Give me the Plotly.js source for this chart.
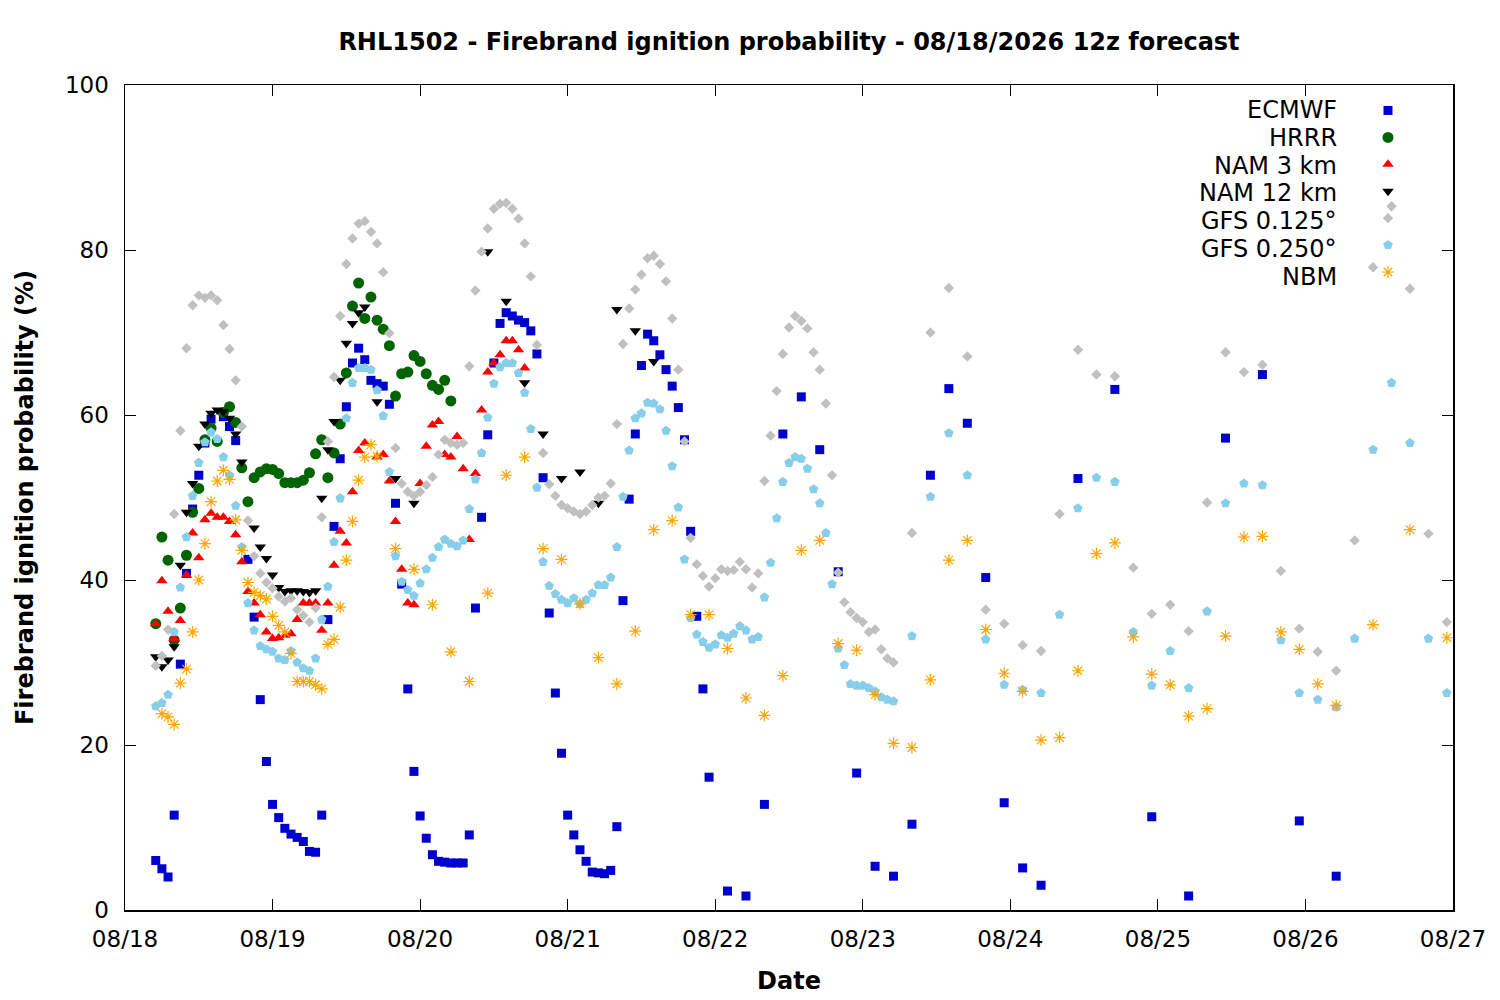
<!DOCTYPE html>
<html>
<head>
<meta charset="utf-8">
<script src="https://cdn.plot.ly/plotly-3.0.1.min.js"></script>
<style>
  body { margin: 0; background: #fff; }
  #plot { width: 1500px; height: 1000px; }
</style>
</head>
<body>
<div id="plot"></div>
<script>
// forecast hours since 08/18 00z, values in %
let dayTicks = [0, 24, 48, 72, 96, 120, 144, 168, 192, 216];
let dayLabels = ["08/18", "08/19", "08/20", "08/21", "08/22", "08/23", "08/24", "08/25", "08/26", "08/27"];
let seriesNames = ["ECMWF", "HRRR", "NAM 3 km", "NAM 12 km", "GFS 0.125°", "GFS 0.250°", "NBM"];

// ECMWF
let ecmwfHours = [5, 6, 7, 8, 9, 10, 11, 12, 13, 14, 16, 17, 18, 20, 21, 22, 23, 24, 25, 26, 27, 28, 29, 30, 31, 32,
  33, 34, 35, 36, 37, 38, 39, 40, 41, 42, 43, 44, 45, 46, 47, 48, 49, 50, 51, 52, 53, 54, 55, 56, 57, 58, 59, 60,
  61, 62, 63, 64, 65, 66, 67, 68, 69, 70, 71, 72, 73, 74, 75, 76, 77, 78, 79, 80, 81, 82, 83, 84, 85, 86, 87, 88,
  89, 90, 91, 92, 93, 94, 95, 98, 101, 104, 107, 110, 113, 116, 119, 122, 125, 128, 131, 134, 137, 140, 143, 146,
  149, 155, 161, 167, 173, 179, 185, 191, 197];
let ecmwfValues = [6.0, 5.0, 4.0, 11.5, 29.8, 40.8, 48.6, 52.7, 56.6, 59.5, 59.8, 58.6, 56.9, 42.5, 35.5, 25.5, 18.0,
  12.8, 11.2, 9.9, 9.2, 8.8, 8.3, 7.1, 7.0, 11.5, 35.2, 46.5, 54.7, 61.0, 66.3, 68.1, 66.7, 64.2, 63.8, 63.5, 61.3,
  49.3, 39.5, 26.8, 16.8, 11.4, 8.7, 6.7, 5.9, 5.8, 5.7, 5.7, 5.7, 9.1, 36.6, 47.6, 57.6, 66.3, 71.1, 72.4, 72.0,
  71.5, 71.2, 70.2, 67.4, 52.4, 36.0, 26.3, 19.0, 11.5, 9.1, 7.3, 5.9, 4.6, 4.5, 4.4, 4.8, 10.1, 37.5, 49.8, 57.7,
  66.0, 69.8, 69.0, 67.3, 65.5, 63.5, 60.9, 57.0, 45.9, 35.6, 26.8, 16.1, 2.3, 1.7, 12.8, 57.7, 62.2, 55.8, 41.0,
  16.6, 5.3, 4.1, 10.4, 52.7, 63.2, 59.0, 40.3, 13.0, 5.1, 3.0, 52.3, 63.1, 11.3, 1.7, 57.2, 64.9, 10.8, 4.1];

// HRRR
let hrrrHours = [5, 6, 7, 8, 9, 10, 11, 12, 13, 14, 15, 16, 17, 18, 19, 20, 21, 22, 23, 24, 25, 26, 27, 28, 29, 30,
  31, 32, 33, 34, 35, 36, 37, 38, 39, 40, 41, 42, 43, 44, 45, 46, 47, 48, 49, 50, 51, 52, 53];
let hrrrValues = [34.7, 45.2, 42.4, 32.7, 36.6, 43.0, 48.2, 51.1, 57.0, 58.4, 56.8, 60.3, 61.0, 59.1, 53.6, 49.5,
  52.4, 53.1, 53.5, 53.4, 52.9, 51.8, 51.8, 51.8, 52.1, 53.0, 55.3, 57.0, 52.4, 55.4, 58.9, 65.1, 73.2, 76.0, 71.7,
  74.3, 71.5, 70.4, 68.4, 62.3, 65.0, 65.2, 67.2, 66.5, 65.0, 63.6, 63.1, 64.2, 61.7];

// NAM 3 km
let nam3Hours = [5, 6, 7, 8, 9, 10, 11, 12, 13, 14, 15, 16, 17, 18, 19, 20, 21, 22, 23, 24, 25, 26, 27, 28, 29, 30,
  31, 32, 33, 34, 35, 36, 37, 38, 39, 41, 42, 43, 44, 45, 46, 47, 48, 49, 50, 51, 52, 53, 54, 55, 56, 57, 58, 59,
  60, 61, 62, 63, 64, 65];
let nam3Values = [34.7, 39.9, 36.2, 32.9, 35.1, 40.6, 45.7, 42.7, 47.3, 48.1, 47.6, 47.6, 47.1, 45.5, 42.2, 38.6,
  37.2, 35.8, 33.7, 32.9, 33.0, 33.3, 33.5, 35.2, 37.2, 37.2, 37.2, 33.9, 37.2, 41.8, 45.9, 44.5, 50.7, 55.7, 56.6,
  54.9, 55.2, 52.0, 47.1, 41.3, 37.2, 37.0, 51.7, 56.2, 58.8, 59.2, 55.2, 54.9, 57.4, 53.5, 44.9, 52.9, 60.6, 65.2,
  66.3, 67.3, 69.0, 69.0, 67.9, 65.7];

// NAM 12 km
let nam12Hours = [5, 6, 7, 8, 9, 10, 11, 12, 13, 14, 15, 16, 17, 18, 19, 21, 22, 23, 24, 25, 26, 27, 28, 29, 30, 31,
  32, 33, 34, 35, 36, 37, 38, 39, 41, 44, 47, 59, 62, 65, 68, 71, 74, 77, 80, 83, 86];
let nam12Values = [30.7, 29.5, 30.3, 31.9, 41.8, 48.2, 51.7, 56.2, 58.9, 60.2, 60.6, 60.4, 59.6, 57.7, 54.3, 46.3,
  44.0, 42.6, 40.6, 39.1, 38.6, 38.7, 38.7, 38.6, 38.5, 38.7, 49.9, 55.8, 59.2, 64.2, 68.7, 71.1, 72.4, 73.1, 61.6,
  52.3, 49.3, 79.8, 73.8, 63.9, 57.7, 52.3, 53.1, 49.3, 72.8, 70.2, 66.5];

// GFS 0.125
let gfs125Hours = [5, 6, 7, 8, 9, 10, 11, 12, 13, 14, 15, 16, 17, 18, 19, 20, 21, 22, 23, 24, 25, 26, 27, 28, 29, 30,
  31, 32, 33, 34, 35, 36, 37, 38, 39, 40, 41, 42, 43, 44, 45, 46, 47, 48, 49, 50, 51, 52, 53, 54, 55, 56, 57, 58,
  59, 60, 61, 62, 63, 64, 65, 66, 67, 68, 69, 70, 71, 72, 73, 74, 75, 76, 77, 78, 79, 80, 81, 82, 83, 84, 85, 86,
  87, 88, 89, 90, 91, 92, 93, 94, 95, 96, 97, 98, 99, 100, 101, 102, 103, 104, 105, 106, 107, 108, 109, 110, 111,
  112, 113, 114, 115, 116, 117, 118, 119, 120, 121, 122, 123, 124, 125, 128, 131, 134, 137, 140, 143, 146, 149, 152,
  155, 158, 161, 164, 167, 170, 173, 176, 179, 182, 185, 188, 191, 194, 197, 200, 203, 206, 209, 212, 215];
let gfs125Values = [29.6, 30.8, 34.0, 48.0, 58.1, 68.1, 73.3, 74.5, 74.2, 74.5, 73.9, 70.9, 68.0, 64.2, 58.6, 47.2,
  42.9, 40.8, 39.7, 39.0, 38.0, 37.4, 37.8, 36.4, 35.7, 34.9, 36.6, 47.6, 56.8, 64.6, 72.0, 78.3, 81.4, 83.2, 83.5,
  82.2, 80.8, 77.3, 69.9, 56.0, 51.7, 50.7, 50.2, 50.7, 51.5, 52.5, 55.2, 57.0, 56.6, 56.4, 56.6, 65.9, 75.1, 79.8,
  82.6, 85.0, 85.6, 85.7, 85.0, 83.8, 80.8, 76.8, 68.5, 55.4, 51.6, 50.2, 49.1, 48.7, 48.3, 48.0, 48.3, 49.1, 50.0,
  50.2, 51.7, 58.9, 68.6, 72.9, 75.2, 77.0, 79.0, 79.3, 78.3, 76.2, 71.7, 65.5, 56.8, 45.1, 41.9, 40.5, 39.2, 40.2,
  41.3, 41.1, 41.2, 42.2, 41.3, 39.1, 40.8, 52.0, 57.5, 62.9, 67.4, 70.6, 72.0, 71.4, 70.5, 67.6, 65.5, 61.4, 52.7,
  40.9, 37.3, 36.1, 35.4, 34.9, 33.7, 34.0, 31.6, 30.5, 30.0, 45.7, 70.0, 75.4, 67.1, 36.4, 34.7, 32.1, 31.4, 48.0,
  67.9, 64.9, 64.7, 41.5, 35.9, 37.0, 33.8, 49.4, 67.6, 65.2, 66.1, 41.1, 34.1, 31.3, 29.0, 44.8, 77.9, 85.3, 75.3,
  45.6, 34.9];

// GFS 0.250 (same output hours as GFS 0.125)
let gfs250Hours = gfs125Hours.slice();
let gfs250Values = [24.7, 25.1, 26.1, 33.7, 39.1, 45.2, 50.2, 54.2, 56.7, 57.9, 57.1, 54.9, 52.7, 49.0, 44.0, 37.2,
  33.9, 32.0, 31.6, 31.3, 30.5, 30.3, 31.4, 30.0, 29.3, 29.0, 30.5, 35.2, 39.2, 44.6, 49.9, 59.6, 63.9, 65.7, 65.7,
  65.5, 63.0, 59.9, 53.1, 42.9, 39.8, 38.8, 38.1, 39.6, 41.3, 42.7, 44.0, 44.9, 44.4, 44.1, 44.8, 48.6, 52.2, 55.4,
  59.7, 63.8, 65.8, 66.3, 66.3, 65.1, 62.7, 58.3, 51.2, 42.2, 39.3, 38.3, 37.6, 37.2, 37.8, 37.1, 37.6, 38.4, 39.4,
  39.4, 40.3, 44.0, 50.1, 55.7, 59.6, 60.2, 61.5, 61.4, 60.7, 58.1, 53.8, 48.8, 42.5, 35.4, 33.4, 32.5, 31.8, 32.2,
  33.3, 33.0, 33.5, 34.4, 33.9, 32.8, 33.1, 37.9, 42.1, 47.5, 51.9, 54.2, 54.9, 54.7, 53.5, 51.0, 49.3, 45.7, 39.5,
  31.7, 29.7, 27.4, 27.2, 27.2, 26.9, 26.5, 25.8, 25.5, 25.3, 33.2, 50.1, 57.8, 52.7, 32.8, 27.3, 26.7, 26.3, 35.8,
  48.7, 52.4, 51.9, 33.7, 27.2, 31.4, 26.9, 36.2, 49.3, 51.7, 51.5, 32.7, 26.3, 25.5, 24.6, 32.9, 55.8, 63.9, 56.6,
  32.9, 26.3];

// NBM
let nbmHours = [6, 7, 8, 9, 10, 11, 12, 13, 14, 15, 16, 17, 18, 19, 20, 21, 22, 23, 24, 25, 26, 27, 28, 29, 30, 31,
  32, 33, 34, 35, 36, 37, 38, 39, 40, 41, 44, 47, 50, 53, 56, 59, 62, 65, 68, 71, 74, 77, 80, 83, 86, 89, 92, 95,
  98, 101, 104, 107, 110, 113, 116, 119, 122, 125, 128, 131, 134, 137, 140, 143, 146, 149, 152, 155, 158, 161, 164,
  167, 170, 173, 176, 179, 182, 185, 188, 191, 194, 197, 203, 209, 215];
let nbmValues = [23.8, 23.4, 22.5, 27.5, 29.2, 33.7, 40.0, 44.4, 49.5, 52.0, 53.3, 52.2, 47.3, 43.6, 39.7, 38.5,
  38.1, 37.7, 35.6, 34.5, 33.7, 31.1, 27.7, 27.7, 27.7, 27.3, 26.8, 32.2, 32.8, 36.7, 42.4, 47.1, 52.1, 54.9, 56.4,
  55.0, 43.8, 41.3, 37.0, 31.3, 27.7, 38.4, 52.7, 54.9, 43.8, 42.5, 37.1, 30.6, 27.4, 33.8, 46.1, 47.2, 35.8, 35.8,
  31.7, 25.7, 23.6, 28.4, 43.6, 44.8, 32.3, 31.5, 26.1, 20.2, 19.7, 27.9, 42.4, 44.8, 34.0, 28.7, 26.5, 20.6, 20.9,
  29.0, 43.2, 44.5, 33.1, 28.6, 27.3, 23.5, 24.4, 33.2, 45.2, 45.3, 33.7, 31.6, 27.4, 24.8, 34.6, 46.1, 33.0];

let font = "DejaVu Sans, Verdana, sans-serif";

// gnuplot-style key: name right-aligned, symbol to its right
// legend holds the symbols only, names go in as annotations
function series(hours, values, symbol, size, color, outline) {
  let marker = {symbol: symbol, size: size, color: color, line: {width: 0}};
  if (outline) marker.line = {width: 1.2, color: color};
  return {x: hours, y: values, name: " ", type: "scatter", mode: "markers", marker: marker};
}

let data = [
  series(ecmwfHours, ecmwfValues, "square", 9, "#0000cd"),
  series(hrrrHours, hrrrValues, "circle", 11, "#006400"),
  series(nam3Hours, nam3Values, "triangle-up", 10, "#ff0000"),
  series(nam12Hours, nam12Values, "triangle-down", 10, "#000000"),
  series(gfs125Hours, gfs125Values, "diamond", 8, "#c0c0c0"),
  series(gfs250Hours, gfs250Values, "pentagon", 10, "#87ceeb"),
  series(nbmHours, nbmValues, "asterisk-open", 10, "#ffa500", true)
];

let keyTop = 110;     // px, centre of first key row
let keyStep = 27.8;   // px between key rows
let keyAnnotations = seriesNames.map(function (name, i) {
  return {
    text: name, xref: "paper", yref: "paper",
    x: (1339 - 125) / 1328, xanchor: "right",
    y: (910 - (keyTop + keyStep * i)) / 825, yanchor: "middle",
    showarrow: false, font: {family: font, size: 24, color: "#000"}
  };
});

let layout = {
  width: 1500,
  height: 1000,
  margin: {l: 125, r: 47, t: 85, b: 90},
  paper_bgcolor: "#ffffff",
  plot_bgcolor: "#ffffff",
  font: {family: font, size: 23, color: "#000000"},
  title: {
    text: "RHL1502 - Firebrand ignition probability - 08/18/2026 12z forecast",
    font: {family: font, size: 24, weight: "bold"},
    x: 0.526, xanchor: "center", y: 0.958, yanchor: "middle"
  },
  xaxis: {
    range: [0, 216],
    tickvals: dayTicks,
    ticktext: dayLabels,
    ticks: "inside", ticklen: 11, tickwidth: 1, tickcolor: "#000",
    ticklabelstandoff: 8,
    showline: true, linecolor: "#000", linewidth: 1.5, mirror: "ticks",
    showgrid: false, zeroline: false,
    tickfont: {size: 23},
    title: {text: "Date", font: {size: 24, weight: "bold"}, standoff: 21}
  },
  yaxis: {
    range: [0, 100],
    tickvals: [0, 20, 40, 60, 80, 100],
    ticks: "inside", ticklen: 11, tickwidth: 1, tickcolor: "#000",
    ticklabelstandoff: 10,
    showline: true, linecolor: "#000", linewidth: 1.5, mirror: "ticks",
    showgrid: false, zeroline: false,
    tickfont: {size: 23},
    title: {text: "Firebrand ignition probability (%)", font: {size: 24, weight: "bold"}, standoff: 24}
  },
  annotations: keyAnnotations,
  showlegend: true,
  legend: {
    x: (1368 - 125) / 1328, xanchor: "left", y: (910 - 92) / 825, yanchor: "top",
    bgcolor: "rgba(0,0,0,0)",
    font: {size: 18.4},
    tracegroupgap: 0,
    itemwidth: 30
  }
};

Plotly.newPlot("plot", data, layout, {staticPlot: true});
</script>
</body>
</html>
